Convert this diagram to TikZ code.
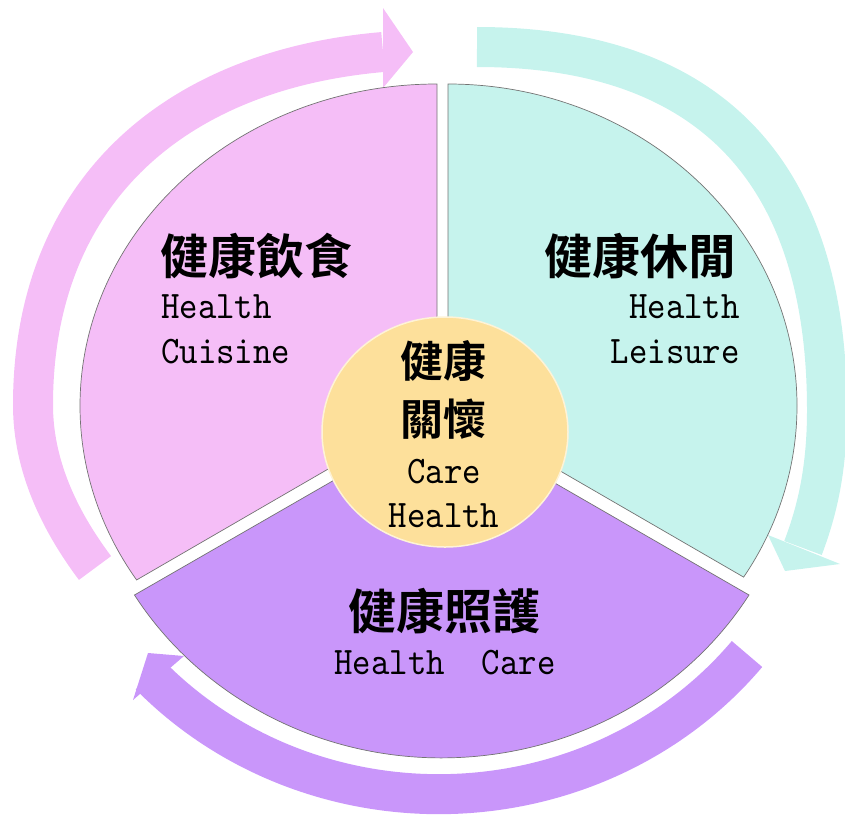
\documentclass[tikz,border=0pt]{standalone}
\usepackage{fontspec}
\newfontfamily\zhfont{Noto Sans CJK TC Bold}
\newfontfamily\enfont{lmmono10-regular.otf}[FakeStretch=0.9]
\usetikzlibrary{positioning,shapes.geometric}
\definecolor{pinkseg}{HTML}{F5BEF7}
\definecolor{cyanseg}{HTML}{C6F3ED}
\definecolor{purpseg}{HTML}{C996FA}
\definecolor{coreyel}{HTML}{FDE09B}

\begin{document}
\begin{tikzpicture}[x=1pt,y=-1pt]
            \tikzstyle{segment}=[draw=black!55, line width=0.7pt]
            \tikzstyle{band}=[line width=40pt]
            \tikzstyle{zh}=[inner sep=0pt, font=\fontsize{48}{52}\zhfont]
            \tikzstyle{zhcore}=[inner sep=0pt, font=\fontsize{43}{46}\zhfont]
            \tikzstyle{en}=[inner sep=0pt, font=\fontsize{39}{44}\enfont]
            \useasboundingbox (0,0) rectangle (845,819);
            % cycle arrows
            \draw[band, pinkseg] (95,568) .. controls (59,520) and (33,465) .. (33,405)
                .. controls (33,193) and (173,70) .. (383,52);
            \fill[pinkseg] (383,8) -- (413,52) -- (383,88) -- cycle;
            \draw[band, cyanseg] (477,47) .. controls (708,47) and (827,170) .. (827,410)
                .. controls (827,475) and (815,516) .. (803,548);
            \fill[cyanseg] (768,535) -- (785,571) -- (840,564) -- cycle;
            \draw[band, purpseg] (747,654) arc[start angle=38.7, end angle=137, x radius=395, y radius=374];
            \fill[purpseg] (184,656) -- (148,653) -- (133,700) -- cycle;
            % pie
            \filldraw[segment, fill=pinkseg] (437,406) -- (437,84) arc[start angle=270, end angle=147.3, x radius=357, y radius=322] -- cycle;
            \filldraw[segment, fill=cyanseg] (448,406) -- (448,84) arc[start angle=270, end angle=392.1, x radius=349, y radius=322] -- cycle;
            \filldraw[segment, fill=purpseg] (442,418) -- (749,595) arc[start angle=31.4, end angle=148.6, x radius=360, y radius=340] -- cycle;
            \node[ellipse, fill=coreyel, draw=white!60!coreyel, line width=1.5pt, minimum width=246pt, minimum height=230pt, inner sep=0pt] (core) at (445,432) {};
            % labels
            \node[zh, anchor=base west] (foodzh) at (160,274) {健康飲食};
            \node[en, anchor=base west] (fooden) at (161,318) {Health};
            \node[en, anchor=base west] (foodsub) at (161,363) {Cuisine};
            \node[zh, anchor=base east] (leisurezh) at (737,274) {健康休閒};
            \node[en, anchor=base east] (leisureen) at (740,318) {Health};
            \node[en, anchor=base east] (leisuresub) at (740,363) {Leisure};
            \node[zhcore, anchor=base] (corezh) at (443,377) {健康};
            \node[zhcore, anchor=base] (corezhb) at (443,435) {關懷};
            \node[en, anchor=base] (coreen) at (444,483) {Care};
            \node[en, anchor=base] (coresub) at (444,527) {Health};
            \node[zh, anchor=base] (carezh) at (444,629) {健康照護};
            \node[en, anchor=base] (careen) at (445,674) {Health\ \ Care};
        \end{tikzpicture}
\end{document}
